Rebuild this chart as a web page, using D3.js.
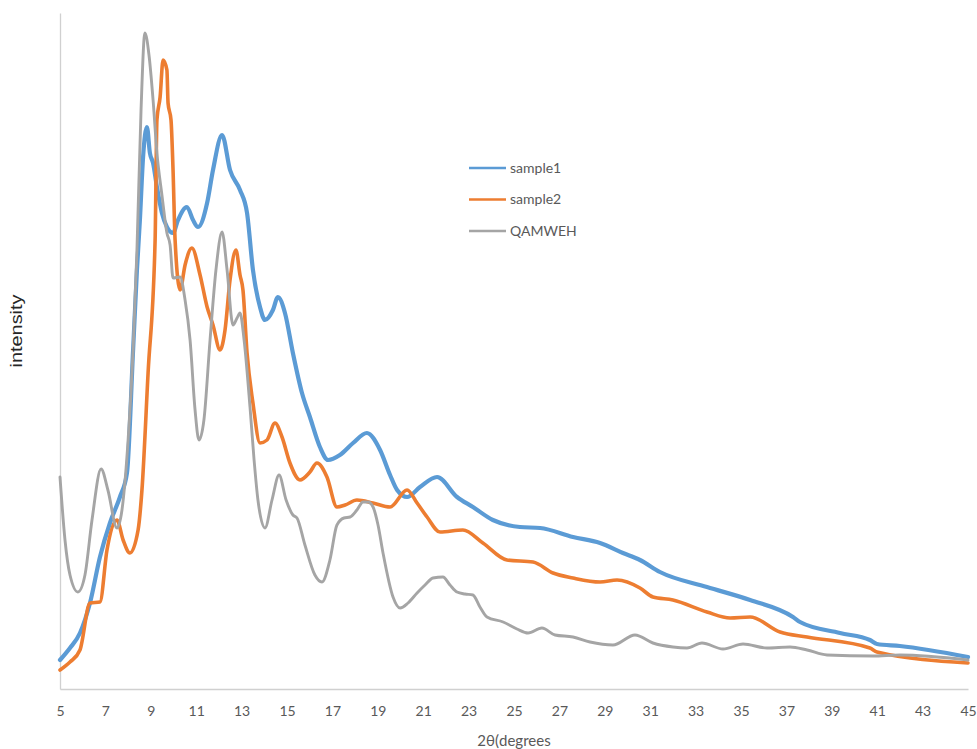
<!DOCTYPE html>
<html>
<head>
<meta charset="utf-8">
<script src="https://cdn.jsdelivr.net/npm/d3@7"></script>
<style>
  html, body { margin: 0; padding: 0; background: #ffffff; }
  svg { display: block; }
</style>
</head>
<body>
<svg id="chart" width="977" height="749"></svg>
<script>
// Diffraction patterns: [2θ (degrees), intensity (a.u.)]
const sample1 = [
  [5.00,290],[5.44,410],[5.88,560],[6.32,860],[6.76,1320],[7.20,1660],[7.64,1920],[7.95,2160],
  [8.22,3390],[8.39,4190],[8.52,4690],[8.66,5320],[8.83,5620],[8.96,5360],[9.10,5260],[9.27,5020],
  [9.49,4760],[9.71,4620],[9.98,4560],[10.20,4690],[10.59,4820],[10.86,4690],[11.08,4620],[11.48,4860],
  [11.74,5190],[12.14,5540],[12.49,5190],[12.93,4990],[13.24,4760],[13.50,4190],[13.81,3820],[14.03,3690],
  [14.38,3790],[14.60,3920],[14.91,3760],[15.26,3360],[15.66,2960],[16.01,2720],[16.45,2420],[16.81,2290],
  [17.33,2340],[17.91,2460],[18.52,2560],[19.10,2390],[19.54,2140],[19.85,1990],[20.29,1920],[20.86,2020],
  [21.61,2120],[22.49,1920],[23.19,1820],[24.07,1690],[25.26,1620],[26.15,1610],[27.60,1520],[28.79,1460],
  [29.80,1360],[30.55,1290],[31.43,1170],[33.50,1020],[35.40,890],[37.29,720],[37.60,670],[39.36,560],
  [40.68,490],[40.99,450],[42.00,430],[45.00,320]
];

const sample2 = [
  [5.00,190],[5.44,270],[5.88,390],[6.32,860],[6.76,870],[7.07,1390],[7.51,1690],[7.78,1490],
  [8.08,1360],[8.44,1590],[8.61,1990],[8.88,3160],[9.19,4490],[9.27,5690],[9.41,5920],[9.54,6290],
  [9.71,6190],[9.76,5860],[9.89,5690],[9.98,5190],[10.07,4490],[10.29,3990],[10.51,4240],[10.81,4410],
  [11.17,4140],[11.48,3820],[11.74,3640],[12.05,3390],[12.27,3590],[12.49,4090],[12.75,4390],[12.93,4140],
  [13.06,3990],[13.24,3360],[13.50,2860],[13.81,2460],[14.12,2490],[14.47,2660],[14.78,2520],[15.13,2260],
  [15.57,2090],[16.01,2170],[16.32,2260],[16.76,2120],[17.20,1820],[17.56,1840],[18.08,1890],[18.79,1860],
  [19.54,1820],[20.29,1990],[20.73,1860],[21.17,1720],[21.74,1570],[22.75,1590],[23.63,1460],[24.69,1290],
  [25.84,1270],[26.72,1160],[27.60,1110],[28.79,1070],[29.54,1090],[30.55,1010],[31.12,920],[32.00,890],
  [33.50,770],[34.52,710],[35.40,720],[36.72,570],[37.91,520],[40.68,410],[40.99,370],[45.00,260]
];

const qamweh = [
  [5.00,2120],[5.22,1490],[5.44,1140],[5.79,970],[6.10,1140],[6.41,1690],[6.81,2200],[7.11,1990],
  [7.51,1610],[7.73,1790],[8.00,2490],[8.22,3390],[8.39,4390],[8.57,5790],[8.74,6560],[8.92,6340],
  [9.10,5890],[9.27,5360],[9.49,4940],[9.71,4560],[9.85,4440],[9.98,4110],[10.29,4120],[10.51,3890],
  [10.73,3490],[10.95,2790],[11.12,2490],[11.34,2690],[11.61,3490],[11.87,4190],[12.14,4570],[12.36,4190],
  [12.62,3640],[12.80,3710],[12.93,3760],[13.11,3490],[13.37,2820],[13.55,2290],[13.72,1890],[14.03,1610],
  [14.34,1890],[14.65,2140],[14.96,1890],[15.26,1740],[15.44,1710],[15.79,1440],[16.23,1140],[16.54,1070],
  [16.89,1290],[17.20,1640],[17.51,1710],[17.78,1720],[18.08,1790],[18.35,1870],[18.57,1870],[18.79,1820],
  [19.01,1640],[19.23,1360],[19.67,920],[19.98,810],[20.33,860],[20.73,960],[21.08,1040],[21.43,1110],
  [21.87,1120],[22.18,1040],[22.49,970],[22.84,950],[23.19,940],[23.50,820],[23.81,720],[24.52,670],
  [25.13,600],[25.62,560],[26.23,610],[26.81,540],[27.60,520],[28.35,470],[29.36,440],[30.33,540],
  [31.12,460],[32.00,420],[32.62,410],[33.28,460],[34.21,400],[35.09,450],[36.15,410],[37.16,420],
  [37.91,390],[38.79,340],[40.81,330],[42.00,340],[45.00,290]
];

const seriesNames = ["sample1", "sample2", "QAMWEH"];
const xTicks = [5,7,9,11,13,15,17,19,21,23,25,27,29,31,33,35,37,39,41,43,45];
const xTitle = "2θ(degrees";
const yTitle = "intensity";

const colors = { sample1: "#5b9bd5", sample2: "#ed7d31", QAMWEH: "#a5a5a5" };
const widths = { sample1: 4.2, sample2: 3.6, QAMWEH: 2.9 };
const dataBySeries = { sample1, sample2, QAMWEH: qamweh };

const svg = d3.select("#chart");
const plot = { left: 60, right: 968, top: 13, bottom: 689 };

const x = d3.scaleLinear().domain([5, 45]).range([plot.left, plot.right]);
const y = d3.scaleLinear().domain([0, 6760]).range([plot.bottom, plot.top]);

// Axes
const xAxis = svg.append("g")
  .attr("transform", `translate(0,${plot.bottom})`)
  .call(d3.axisBottom(x).tickValues(xTicks).tickFormat(d3.format("d"))
    .tickSize(0).tickSizeOuter(0).tickPadding(17));
xAxis.select(".domain").attr("stroke", "#d0d0d0").attr("stroke-width", 1.3);
xAxis.selectAll("text")
  .attr("fill", "#595959")
  .style("font-family", "Lato, 'Open Sans', sans-serif")
  .style("font-size", "14px");

const yAxis = svg.append("g")
  .attr("transform", `translate(${plot.left},0)`)
  .call(d3.axisLeft(y).tickValues([]).tickSize(0).tickSizeOuter(0));
yAxis.select(".domain").attr("stroke", "#d0d0d0").attr("stroke-width", 1.3);

// Axis titles
svg.append("text")
  .attr("x", 514).attr("y", 746)
  .attr("text-anchor", "middle")
  .attr("fill", "#595959")
  .style("font-family", "Lato, 'Open Sans', sans-serif")
  .style("font-size", "15px")
  .text(xTitle);

svg.append("text")
  .attr("transform", "translate(22,331) rotate(-90)")
  .attr("text-anchor", "middle")
  .attr("fill", "#262626")
  .style("font-family", "'Liberation Sans', Arial, sans-serif")
  .style("font-size", "16px")
  .attr("textLength", 73)
  .attr("lengthAdjust", "spacingAndGlyphs")
  .text(yTitle);

// Series lines
const line = d3.line()
  .x(d => x(d[0]))
  .y(d => y(d[1]))
  .curve(d3.curveMonotoneX);

const plotArea = svg.append("g");
seriesNames.forEach(name => {
  plotArea.append("path")
    .datum(dataBySeries[name])
    .attr("fill", "none")
    .attr("stroke", colors[name])
    .attr("stroke-width", widths[name])
    .attr("stroke-linejoin", "round")
    .attr("stroke-linecap", "round")
    .attr("d", line);
});

// Legend
const legend = svg.append("g").attr("transform", "translate(469,168)");
seriesNames.forEach((name, i) => {
  const g = legend.append("g").attr("transform", `translate(0,${i * 31.5})`);
  g.append("line")
    .attr("x1", 0).attr("x2", 37).attr("y1", 0).attr("y2", 0)
    .attr("stroke", colors[name]).attr("stroke-width", 2.6);
  g.append("text")
    .attr("x", 41).attr("y", 0).attr("dy", "0.35em")
    .attr("fill", "#595959")
    .style("font-family", "Lato, 'Open Sans', sans-serif")
    .style("font-size", "14px")
    .text(name);
});
</script>
</body>
</html>
